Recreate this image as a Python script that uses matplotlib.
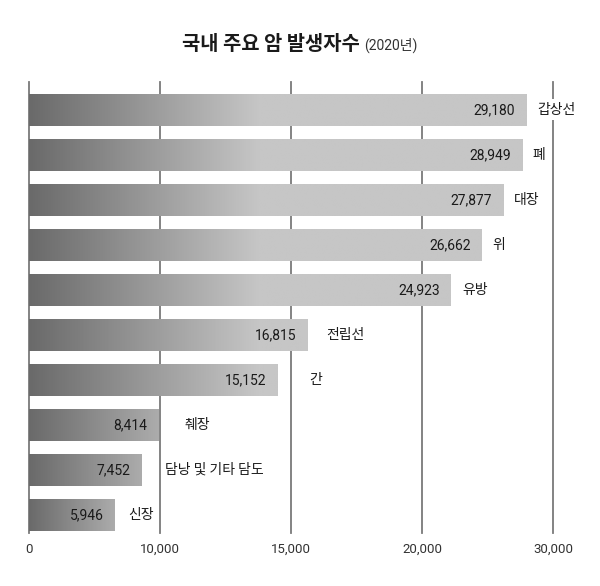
"""
국내 주요 암 발생자수 (2020년) - 그라데이션 가로 막대그래프
"""
import matplotlib
matplotlib.use('Agg')
import matplotlib.pyplot as plt
import numpy as np
from matplotlib.colors import LinearSegmentedColormap

categories = ['갑상선', '폐', '대장', '위', '유방', '전립선', '간', '췌장',
              '담낭 및 기타 담도', '신장']
counts = [29180, 28949, 27877, 26662, 24923, 16815, 15152, 8414, 7452, 5946]
tick_labels = ['0', '10,000', '15,000', '20,000', '30,000']
title_main = '국내 주요 암 발생자수'
title_year = '(2020년)'

KR = ['Noto Sans CJK KR', 'DejaVu Sans']
NUM = ['Roboto', 'Noto Sans CJK KR']
plt.rcParams['font.family'] = KR

# 라벨 간격 (포인트)
label_pad = [8, 7.5, 7.5, 8, 8.5, 13.5, 23, 19, 17, 9.5]

fig = plt.figure(figsize=(6, 5.86), dpi=100)
ax = fig.add_axes([29 / 600, 53 / 586, 524 / 600, 451 / 586])

x_lo, x_hi = 1100, 30700
ypos = np.arange(len(categories))
bar_h = 0.71
grad = LinearSegmentedColormap.from_list('bar', ['#6a6a6a', '#c6c6c6'])

bars = ax.barh(ypos, counts, height=bar_h, color='none', zorder=2)
for bar, y, v in zip(bars, ypos, counts):
    span = min(1.4 * (v - x_lo), 13000)
    xs = np.linspace(x_lo, v, 300)
    t = np.clip((xs - x_lo) / span, 0, 1)
    img = ax.imshow(t[np.newaxis, :], cmap=grad, vmin=0, vmax=1,
                    aspect='auto', interpolation='bilinear',
                    extent=(x_lo, v, y + bar_h / 2, y - bar_h / 2), zorder=2)
    img.set_clip_path(bar)

ticks = np.linspace(x_lo, x_hi, len(tick_labels))
for xt in ticks:
    ax.axvline(xt, color='#7a7a7a', lw=1.3, zorder=1, clip_on=False)

for y, v, cat, pad in zip(ypos, counts, categories, label_pad):
    ax.annotate(f'{v:,}', (v, y), xytext=(-8, 0), textcoords='offset points',
                ha='right', va='center', fontsize=10, family=NUM,
                color='#1a1a1a', zorder=4)
    ax.annotate(cat, (v, y), xytext=(pad, 0), textcoords='offset points',
                ha='left', va='center', fontsize=10, fontweight='medium',
                color='#1a1a1a', zorder=3, annotation_clip=False,
                bbox=dict(boxstyle='square,pad=0.25', fc='white', ec='none'))

ax.set_xlim(x_lo, x_hi)
ax.set_ylim(len(categories) - 0.6, -0.62)
ax.set_xticks(ticks, tick_labels, family=NUM, fontsize=9.5, color='#333333')
ax.tick_params(axis='x', length=0, pad=7)
ax.set_yticks([])
for s in ax.spines.values():
    s.set_visible(False)

fig.text(182 / 600, 1 - 44 / 586, title_main, ha='left', va='center',
         fontsize=14.3, fontweight='bold', color='#1a1a1a')
fig.text(364 / 600, 1 - 45 / 586, title_year, ha='left', va='center',
         fontsize=10, family=NUM, color='#333333')

fig.savefig('out.png', dpi=100, facecolor='white')
